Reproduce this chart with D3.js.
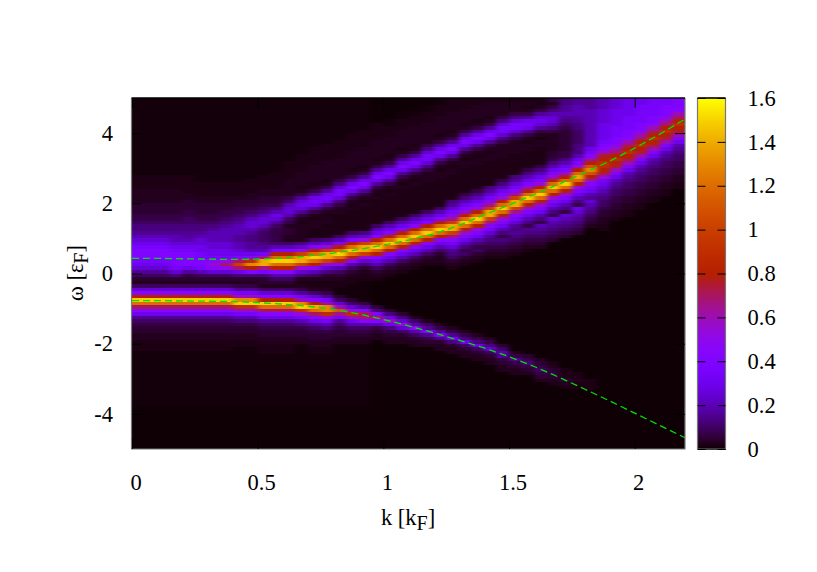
<!DOCTYPE html>
<html>
<head>
<meta charset="utf-8">
<style>
  body { margin: 0; background: #fff; }
  text { font-family: "Liberation Serif", serif; fill: #000; }
</style>
<script src="https://cdn.jsdelivr.net/npm/d3@7"></script>
</head>
<body>
<svg id="chart" width="817" height="572"></svg>
<script>
var kTicks = [0, 0.5, 1, 1.5, 2]
var omegaTicks = [-4, -2, 0, 2, 4]
var colorTicks = [0, 0.2, 0.4, 0.6, 0.8, 1, 1.2, 1.4, 1.6]

// value of each character used in spectrum below (parseInt base 36 gives the index)
var levels = [0, .005, .01, .02, .03, .05, .07, .1, .13, .16, .2, .25, .3, .35, .4, .45, .5, .55, .6, .65, .7, .75, .8, .9, 1, 1.1, 1.2, 1.3, 1.4, 1.5, 1.6]

// one entry per k column (step 0.05).
// first char = level of the whole column, then row:levels pieces, row 0 is omega = 4.95, step -0.1
var spectrum = [
  "2|22:33334444555667889a|40:bcdeeedcb975|52:47bfmtqkfc9765544333|88:111111111111",
  "2|22:33334444555667889a|40:bcdeeedcb975|52:47bfmtqkfc9765544333|88:111111111111",
  "2|22:33334444555667889a|40:bcdeeedcb975|52:47bfmtqkfc9765544333|88:111111111111",
  "2|22:33334444555667889a|40:abcdeeeedb85|52:47bfmtqkfc9765544333|88:111111111111",
  "2|22:3333|26:34455566778899abcdeeeec965|52:47bfmtqkfc9765544333|88:111111111111",
  "2|24:3333|28:44555667889abbccddeeda75|52:47bfmtqkfc9765544333|88:111111111111",
  "2|24:3333|28:4455566789aaabbccdfhfb75|52:47bfmtqkfc9765544333|88:111111111111",
  "2|24:3333|28:445566789aaaabbccdgkgb75|52:47bfmtqkfc9765544333|88:111111111111",
  "2|24:3333|28:45566789aaa99aabcekokc85|52:469dirtnhda86554433|88:111111111111",
  "2|23:3333|27:4455678abba98899acfnrme85|52:469dirtnhda86554433|88:111111111111",
  "2|22:3333|26:4455678abba877789adjssjd85|52:5|53:47bfmtqkfc9765544333|88:111111111111",
  "2|21:3333|25:3445568acb9766667aemqtqmfa75|53:47bfmtqkfc9765544333|88:111111111111",
  "2|18:333334444|27:467abba764|37:5544|41:7aemqtqmfa7|52:5|53:47bfmtqkfc9765544333|88:111111111111",
  "2|16:333334444|25:3469bcb9643|36:44444|41:8bhossohb8|51:43|53:469dirtnhda865544|88:111111111111",
  "2|14:3333344444|24:3469cdc9643|35:44333|40:7aemqtqmfa7|51:4333|54:47bfmsqkfc976554433|88:111111111111",
  "2|13:3333344444|23:3469cdc9643|34:443333|40:8bhossohb8|50:5433|54:469dirrnhda86554433|88:111111111111",
  "2|12:3333344444|22:468bddb864|32:4333333|39:7aemqtqmfa7|50:5433|56:57bipjd9765544|88:111111111111",
  "2|10:3333344444|20:3469cec9643|31:4333333|38:7aemqtqmfa7|49:5433|57:57bhnica76544|88:111111111111",
  "2|9:3333344444|19:3469cec9643|30:43333333|38:8bhossohb8|48:5433|58:69fkkfa76544|88:111111111111",
  "1|7:3333344444|17:3469cec9643|28:43333333|36:7acfmqtqmfca7|49:543|59:58ekea6544",
  "1|6:2233344444|16:3469cec9643|27:43333333|35:7acfmqtqmfca7|48:543|60:58cic86544",
  "1|4:2233344444|14:3469cec9643|25:433333333|34:7acfmqtqmfca7|47:543|61:58bhb7544",
  "1|3:2233344444|13:3469cec9643|24:433333333|33:7acfmqtqmfca7|46:543|62:47aga7544",
  "1|2:2233344444|12:468bddb864|22:4433333333|32:7acfmqtqmfca7|45:543|63:479f9654",
  "1|0:2233344444|10:3469cec9643|21:4433333333|31:7acfmqtqmfca7|44:5443|64:469e8544",
  "1|0:333344444|9:3469cec9643|20:443333333|29:89bdfjossojfdb98|45:7543|65:469d8544",
  "1|0:3334444|7:3469cec9643|18:443333333|27:68acehmqtqmheca86|44:7543|66:468c7544",
  "1|0:334444|6:3469cec9643|17:443333333|26:68acehmqtqmheca86|43:7543|67:468c7544",
  "1|0:34444|5:3469cec9643|16:443333333|25:89bdfjossojfdb98|41:76543|68:468b7544",
  "1|0:3444|4:468bddb864|14:444333333|23:68acehmqtqmheca86|40:876543|70:57a96544",
  "1|0:344|3:468bddb864|13:444333333|22:89bdfjossojfdb98|38:9876543|72:4696544",
  "1|0:34|2:3469cdc9643|13:4433333|20:68acehmqtqmheca86|37:9876543|73:568654",
  "1|0:3|1:3469bcb9643|12:4433333|19:68acehmqtqmheca86|36:a987654|74:4567654",
  "1|0:6|1:468abba864|11:444455|17:68acehmqtqmheca86|34:ba98765|75:3456543",
  "1|0:8899a98765|10:555556|16:68acehmqtqmheca86|33:ba98765|77:334543",
  "1|0:99aaa99887|10:7778|14:88acehmqsqmheca86|31:cba98765|78:33433",
  "1|0:999aaaaaaaaa|12:aacdfimprpmifdca9|29:ba987654|80:3332",
  "1|0:aaabbbbccccc|12:defilmnnmlhdcba98776554433",
  "1|0:bbbcccccddd|11:eefikmnmlieca98776655443",
  "1|0:cccccdddd|9:eefikmnmlieca987766554433",
  "1|0:ccddddd|7:eefikmnmlieca987766554433",
  "1|0:ddddd|5:eefikmnmlieca987766554433",
  "1|0:dde|3:eefikmnmlieca987766554433",
  "1|0:e|1:eefikmnmlieca987766554433"
]

// green dashed curves, k every 0.1
var curveK = [0, .1, .2, .3, .4, .5, .6, .7, .8, .9, 1, 1.1, 1.2, 1.3, 1.4, 1.5, 1.6, 1.7, 1.8, 1.9, 2, 2.1, 2.2]
var upperCurve = [.43, .43, .42, .41, .40, .41, .44, .5, .58, .68, .81, .95, 1.13, 1.37, 1.67, 1.95, 2.25, 2.55, 2.87, 3.2, 3.57, 3.97, 4.4]
var lowerCurve = [-.77, -.77, -.78, -.79, -.8, -.83, -.87, -.93, -1.02, -1.15, -1.31, -1.49, -1.69, -1.9, -2.12, -2.37, -2.65, -2.96, -3.29, -3.63, -3.98, -4.33, -4.68]

var svg = d3.select("#chart")
var left = 132, right = 685, top_ = 98, bottom = 449
var barLeft = 697.5, barRight = 725.5
var fontSize = 22.5

var x = d3.scaleLinear().domain([0, 2.2]).range([left, right])
var y = d3.scaleLinear().domain([-5, 5]).range([bottom, top_])
var barY = d3.scaleLinear().domain([0, 1.6]).range([bottom, top_])

// gnuplot default palette (rgbformulae 7,5,15)
var color = d3.scaleSequential(function (t) {
    var b = Math.max(0, Math.sin(2 * Math.PI * t))
    return d3.rgb(255 * Math.sqrt(t), 255 * t * t * t, 255 * b).formatRgb()
}).domain([0, 1.6])

function parseColumn(s) {
    var parts = s.split("|")
    var col = d3.range(100).map(function () { return levels[parseInt(parts[0], 36)] })
    parts.slice(1).forEach(function (p) {
        var bits = p.split(":")
        var start = +bits[0]
        bits[1].split("").forEach(function (c, i) {
            col[start + i] = levels[parseInt(c, 36)]
        })
    })
    return col
}

var cells = []
spectrum.forEach(function (s, i) {
    parseColumn(s).forEach(function (v, r) {
        cells.push({ col: i, row: r, k: i * 0.05, w: 5 - r * 0.1, v: v })
    })
})

var defs = svg.append("defs")
defs.append("clipPath").attr("id", "plotClip").append("rect")
    .attr("x", left).attr("y", top_).attr("width", right - left).attr("height", bottom - top_)
// soften the column steps a bit, the picture was made on a finer k grid
defs.append("filter").attr("id", "soft")
    .attr("x", "-5%").attr("y", "-5%").attr("width", "110%").attr("height", "110%")
    .attr("color-interpolation-filters", "sRGB")
    .append("feGaussianBlur").attr("stdDeviation", "2.6 0.7")

// outer cells run past the frame so the blur does not fade at the edges
var over = 14
svg.append("g").attr("clip-path", "url(#plotClip)")
    .append("g")
    .attr("filter", "url(#soft)")
    .attr("shape-rendering", "crispEdges")
    .selectAll("rect")
    .data(cells)
    .enter().append("rect")
    .attr("x", function (d) { return x(d.k) - (d.col == 0 ? over : 0) })
    .attr("y", function (d) { return y(d.w) - (d.row == 0 ? over : 0) })
    .attr("width", function (d) { return x(0.05) - x(0) + 0.5 + (d.col == 0 || d.col == 43 ? over : 0) })
    .attr("height", function (d) { return y(0) - y(0.1) + 0.5 + (d.row == 0 || d.row == 99 ? over : 0) })
    .attr("fill", function (d) { return color(d.v) })

var line = d3.line()
    .x(function (d, i) { return x(curveK[i]) })
    .y(function (d) { return y(d) })

;[upperCurve, lowerCurve].forEach(function (c) {
    svg.append("path")
        .attr("d", line(c))
        .attr("fill", "none")
        .attr("stroke", "#00e000")
        .attr("stroke-width", 1.3)
        .attr("stroke-dasharray", "7,4")
})

// colour bar
var barSteps = d3.range(0, 1.6, 1.6 / 351)
svg.append("g")
    .attr("shape-rendering", "crispEdges")
    .selectAll("rect")
    .data(barSteps)
    .enter().append("rect")
    .attr("x", barLeft)
    .attr("y", function (d) { return barY(d) - 1 })
    .attr("width", barRight - barLeft)
    .attr("height", 2)
    .attr("fill", function (d) { return color(d) })

// frames
function frame(x0, x1) {
    svg.append("path").attr("d", "M" + x0 + "," + top_ + "V" + bottom + "H" + x1 + "V" + top_)
        .attr("fill", "none").attr("stroke", "#777").attr("stroke-width", 1.2)
    svg.append("path").attr("d", "M" + x0 + "," + top_ + "H" + x1)
        .attr("fill", "none").attr("stroke", "#000").attr("stroke-width", 1.6)
}
frame(left - 0.5, right)
frame(barLeft, barRight)

function styleAxis(g) {
    g.select(".domain").remove()
    g.selectAll("line").attr("stroke", "#000").attr("stroke-width", 1)
    g.selectAll("text").attr("font-size", fontSize).attr("fill", "#000")
        .style("font-family", '"Liberation Serif", serif')
}

svg.append("g").attr("transform", "translate(0," + bottom + ")")
    .call(d3.axisBottom(x).tickValues(kTicks).tickFormat(function (d) { return d }).tickSize(-10).tickPadding(25))
    .call(styleAxis)
    .selectAll("text").attr("dx", 3.5)
svg.append("g").attr("transform", "translate(0," + top_ + ")")
    .call(d3.axisTop(x).tickValues(kTicks).tickFormat("").tickSize(-10))
    .call(styleAxis)
svg.append("g").attr("transform", "translate(" + left + ",0)")
    .call(d3.axisLeft(y).tickValues(omegaTicks).tickFormat(function (d) { return d }).tickSize(-10).tickPadding(19))
    .call(styleAxis)
svg.append("g").attr("transform", "translate(" + right + ",0)")
    .call(d3.axisRight(y).tickValues(omegaTicks).tickFormat("").tickSize(-10))
    .call(styleAxis)

svg.append("g").attr("transform", "translate(" + barRight + ",0)")
    .call(d3.axisRight(barY).tickValues(colorTicks).tickFormat(function (d) { return d }).tickSize(-8).tickPadding(22))
    .call(styleAxis)
svg.append("g").attr("transform", "translate(" + barLeft + ",0)")
    .call(d3.axisLeft(barY).tickValues(colorTicks).tickFormat("").tickSize(-8))
    .call(styleAxis)

// axis titles
var xTitle = svg.append("text").attr("x", 408).attr("y", 525)
    .attr("text-anchor", "middle").attr("font-size", fontSize)
xTitle.append("tspan").text("k [k")
xTitle.append("tspan").attr("dy", 5).attr("font-size", 20).text("F")
xTitle.append("tspan").attr("dy", -5).text("]")

var yTitle = svg.append("text")
    .attr("transform", "translate(83,273) rotate(-90)")
    .attr("text-anchor", "middle").attr("font-size", fontSize)
yTitle.append("tspan").text("ω [ε")
yTitle.append("tspan").attr("dy", 5).attr("font-size", 20).text("F")
yTitle.append("tspan").attr("dy", -5).text("]")
</script>
</body>
</html>
